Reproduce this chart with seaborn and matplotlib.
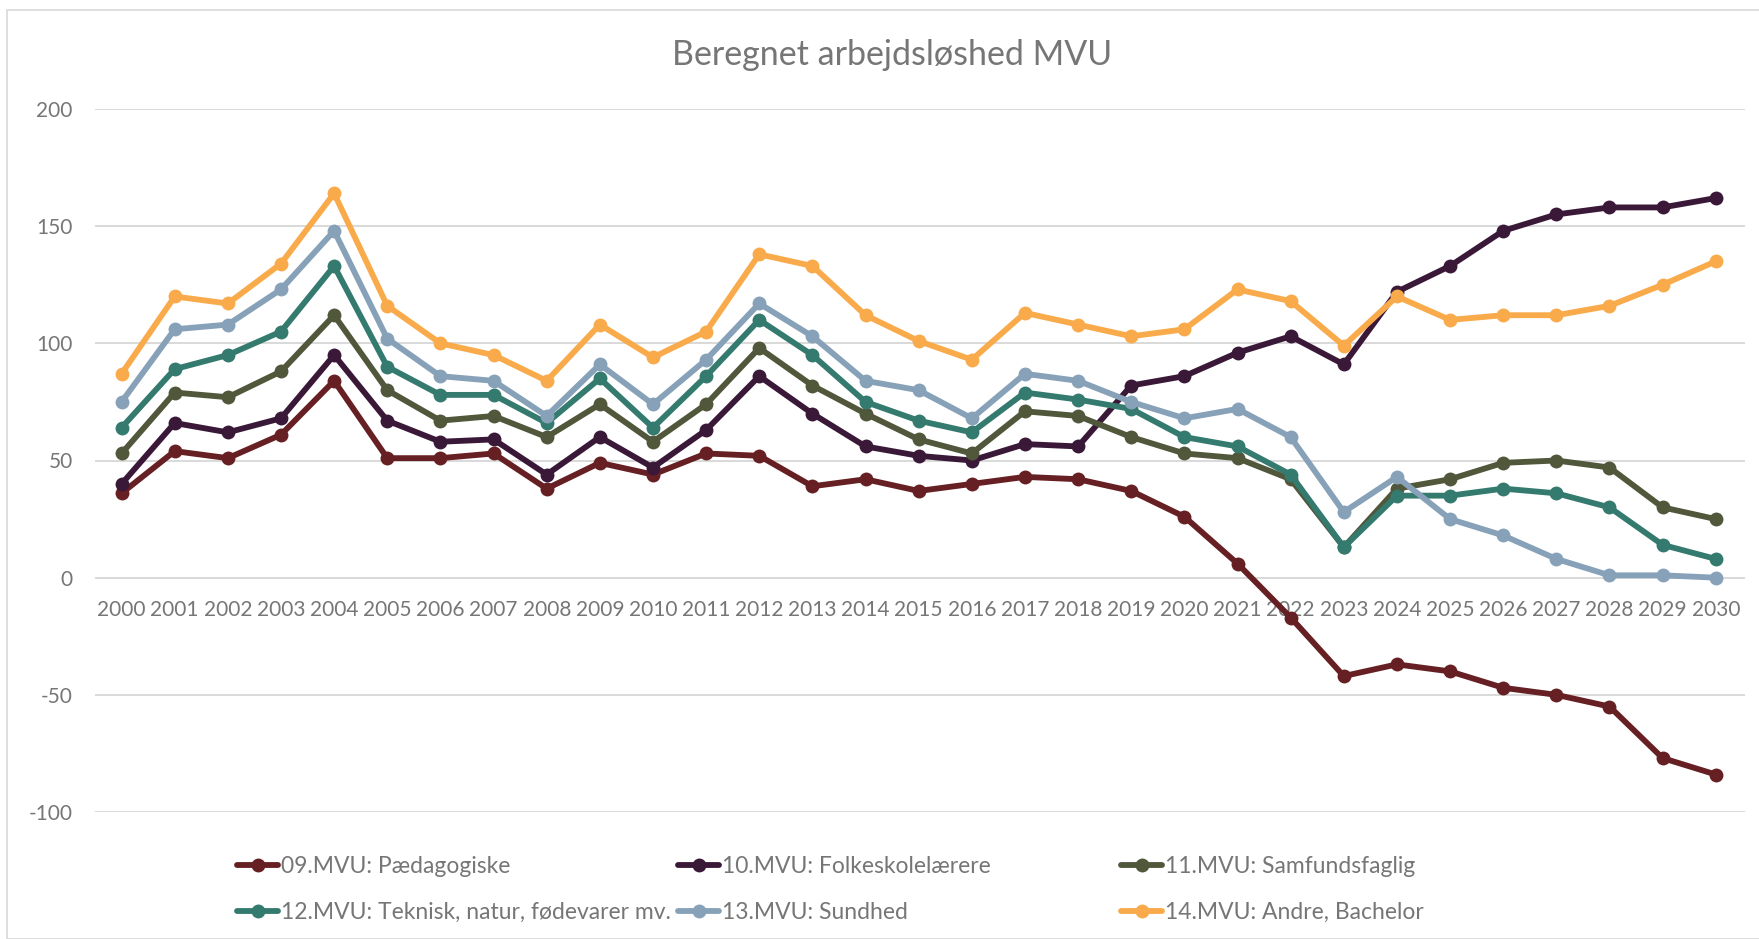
import numpy as np
import pandas as pd
import matplotlib
matplotlib.use("Agg")
import matplotlib.pyplot as plt
from matplotlib.lines import Line2D
from matplotlib.patches import Rectangle
import seaborn as sns

# data
years = list(range(2000, 2031))

paedagogiske = [36, 54, 51, 61, 84, 51, 51, 53, 38, 49, 44, 53, 52, 39, 42, 37,
                40, 43, 42, 37, 26, 6, -17, -42, -37, -40, -47, -50, -55, -77, -84]
folkeskole = [40, 66, 62, 68, 95, 67, 58, 59, 44, 60, 47, 63, 86, 70, 56, 52,
              50, 57, 56, 82, 86, 96, 103, 91, 122, 133, 148, 155, 158, 158, 162]
samfund = [53, 79, 77, 88, 112, 80, 67, 69, 60, 74, 58, 74, 98, 82, 70, 59,
           53, 71, 69, 60, 53, 51, 42, 13, 38, 42, 49, 50, 47, 30, 25]
teknisk = [64, 89, 95, 105, 133, 90, 78, 78, 66, 85, 64, 86, 110, 95, 75, 67,
           62, 79, 76, 72, 60, 56, 44, 13, 35, 35, 38, 36, 30, 14, 8]
sundhed = [75, 106, 108, 123, 148, 102, 86, 84, 69, 91, 74, 93, 117, 103, 84, 80,
           68, 87, 84, 75, 68, 72, 60, 28, 43, 25, 18, 8, 1, 1, 0]
andre = [87, 120, 117, 134, 164, 116, 100, 95, 84, 108, 94, 105, 138, 133, 112, 101,
         93, 113, 108, 103, 106, 123, 118, 99, 120, 110, 112, 112, 116, 125, 135]

labels = ["09.MVU: Pædagogiske", "10.MVU: Folkeskolelærere", "11.MVU: Samfundsfaglig",
          "12.MVU: Teknisk, natur, fødevarer mv.", "13.MVU: Sundhed", "14.MVU: Andre, Bachelor"]
colors = ["#661F22", "#3A1838", "#50573B", "#347A6E", "#87A2B8", "#F9AB4B"]

series = [paedagogiske, folkeskole, samfund, teknisk, sundhed, andre]
df = pd.concat([pd.DataFrame({"year": years, "value": s, "group": lab})
                for s, lab in zip(series, labels)], ignore_index=True)

sns.set_theme(style="white")
plt.rcParams['font.family'] = ['Lato', 'DejaVu Sans']
plt.rcParams['axes.unicode_minus'] = False
txt_color = "#767676"

fig = plt.figure(figsize=(17.59, 9.39), dpi=100)
ax = fig.add_axes([95/1759, 1-812/939, (1745-95)/1759, (812-109)/939])

# chart frame like the excel chart border
fig.patches.append(Rectangle((7/1759, 0), 2.0, 1-10/939, transform=fig.transFigure,
                             fill=False, edgecolor="#D9D9D9", linewidth=1.2, zorder=0))

sns.lineplot(data=df, x="year", y="value", hue="group", palette=colors,
             marker="o", markersize=10, markeredgewidth=0, linewidth=4.2,
             legend=False, ax=ax)

ax.set_xlim(1999.5, 2030.55)
ax.set_ylim(-100, 200)
ax.set_yticks(np.arange(-100, 201, 50))
ax.set_xticks(years)
ax.set_xticklabels([str(y) for y in years])
ax.grid(axis="y", color="#D9D9D9", linewidth=1.4)
ax.set_axisbelow(True)
for sp in ["top", "right", "left"]:
    ax.spines[sp].set_visible(False)
ax.spines["bottom"].set_position(("data", 0))
ax.spines["bottom"].set_color("none")
ax.tick_params(axis="both", length=0, labelsize=15, labelcolor=txt_color)
ax.tick_params(axis="y", pad=16)
ax.tick_params(axis="x", pad=16)
ax.set_xlabel("")
ax.set_ylabel("")

fig.text(892/1759, 1-55/939, "Beregnet arbejdsløshed MVU", ha="center", va="center",
         fontsize=24.5, color=txt_color)

# legend: three columns of two entries
handles = [Line2D([0], [0], color=c, linewidth=4.2, marker="o", markersize=10,
                  markeredgewidth=0) for c in colors]
col_x = [228, 669, 1112]
for i, x in enumerate(col_x):
    leg = fig.legend([handles[i], handles[i + 3]], [labels[i], labels[i + 3]],
                     loc="upper left", bbox_to_anchor=(x/1759, 1-847/939),
                     frameon=False, fontsize=16.5, labelcolor=txt_color,
                     handlelength=1.8, handletextpad=0.12, labelspacing=1.08,
                     borderaxespad=0)

fig.savefig("out.png", dpi=100)
